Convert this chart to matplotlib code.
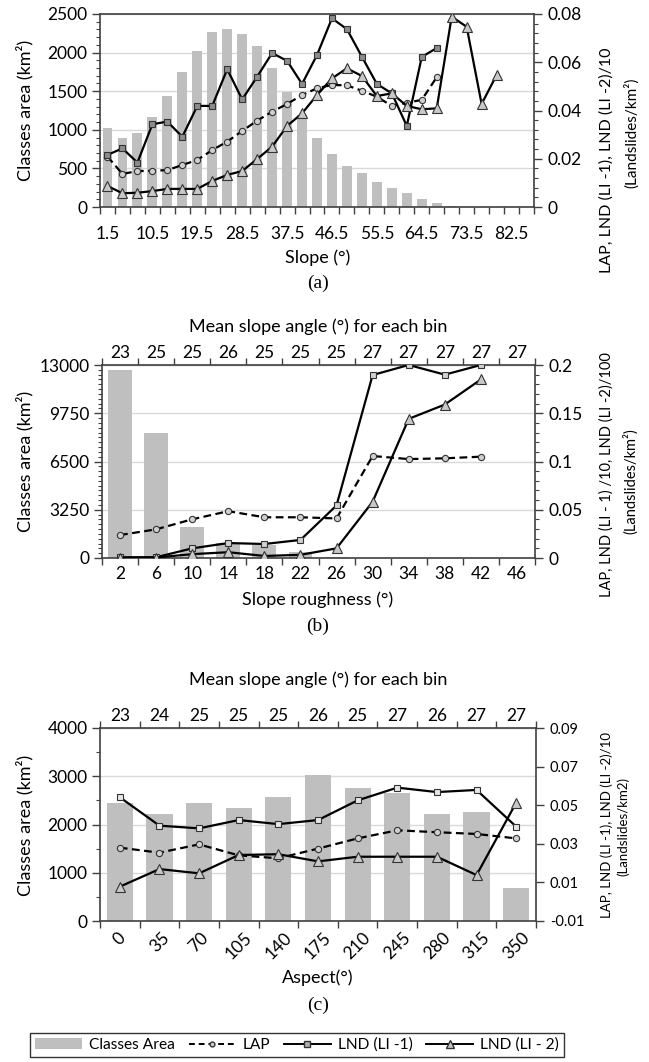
import matplotlib
matplotlib.use('Agg')
import numpy as np
import matplotlib.pyplot as plt
from matplotlib.lines import Line2D
from matplotlib.patches import Patch
from matplotlib.ticker import MultipleLocator, FixedLocator, FuncFormatter, NullFormatter

plt.rcParams['font.family'] = ['Lato', 'DejaVu Sans']
plt.rcParams['font.size'] = 12.5

# ---- slope classes (a) ----
slope_bins = ['1.5', '4.5', '7.5', '10.5', '13.5', '16.5', '19.5', '22.5', '25.5', '28.5',
              '31.5', '34.5', '37.5', '40.5', '43.5', '46.5', '49.5', '52.5', '55.5', '58.5',
              '61.5', '64.5', '67.5', '70.5', '73.5', '76.5', '79.5', '82.5', '85.5']
slope_area = [1020, 900, 960, 1170, 1440, 1750, 2020, 2265, 2300, 2240,
              2080, 1805, 1490, 1190, 900, 690, 530, 435, 330, 250,
              178, 105, 56, 15, 5, 0, 0, 0, 0]
slope_lap = [0.0209, 0.0137, 0.0149, 0.0150, 0.0153, 0.0174, 0.0195, 0.0236, 0.0271, 0.0315,
             0.0358, 0.0395, 0.0427, 0.0464, 0.0492, 0.0506, 0.0504, 0.0482, 0.0457, 0.0419,
             0.0432, 0.0444, 0.0538]
slope_lnd1 = [0.0216, 0.0243, 0.0184, 0.0343, 0.0354, 0.0291, 0.0419, 0.0419, 0.0571, 0.0446,
              0.0540, 0.0638, 0.0606, 0.0510, 0.0630, 0.0782, 0.0737, 0.0623, 0.0510, 0.0471,
              0.0336, 0.0622, 0.0659]
slope_lnd2 = [0.0087, 0.0057, 0.0059, 0.0066, 0.0075, 0.0075, 0.0075, 0.0108, 0.0133, 0.0149,
              0.0199, 0.0250, 0.0336, 0.0388, 0.0464, 0.0533, 0.0575, 0.0543, 0.0460, 0.0471,
              0.0419, 0.0405, 0.0409, 0.0789, 0.0747, 0.0427, 0.0547]

# ---- slope roughness (b) ----
rough_bins = ['2', '6', '10', '14', '18', '22', '26', '30', '34', '38', '42', '46']
rough_mean = ['23', '25', '25', '26', '25', '25', '25', '27', '27', '27', '27', '27']
rough_area = [12650, 8450, 2110, 1000, 870, 430, 70, 0, 0, 0, 0, 0]
rough_lap = [0.0238, 0.0297, 0.0401, 0.0485, 0.0422, 0.0422, 0.0410, 0.1057, 0.1025, 0.1033, 0.1050]
rough_lnd1 = [0.0007, 0.0008, 0.0100, 0.0155, 0.0145, 0.0187, 0.0545, 0.1896, 0.2000, 0.1900, 0.2000]
rough_lnd2 = [0.0003, 0.0005, 0.0040, 0.0060, 0.0021, 0.0033, 0.0100, 0.0583, 0.1442, 0.1590, 0.1850]

# ---- aspect (c) ----
aspect_bins = ['0', '35', '70', '105', '140', '175', '210', '245', '280', '315', '350']
aspect_mean = ['23', '24', '25', '25', '25', '26', '25', '27', '26', '27', '27']
aspect_area = [2450, 2220, 2440, 2335, 2560, 3025, 2765, 2660, 2210, 2265, 680]
aspect_lap = [0.0280, 0.0254, 0.0297, 0.0240, 0.0225, 0.0275, 0.0328, 0.0370, 0.0360, 0.0351, 0.0328]
aspect_lnd1 = [0.0541, 0.0394, 0.0380, 0.0423, 0.0402, 0.0423, 0.0525, 0.0591, 0.0568, 0.0579, 0.0389]
aspect_lnd2 = [0.0078, 0.0169, 0.0147, 0.0242, 0.0246, 0.0209, 0.0233, 0.0233, 0.0233, 0.0138, 0.0513]

BAR = '#bfbfbf'
GRID = '#d9d9d9'
SPINE = '#404040'
LBL = 13

W, H = 649, 1062
fig = plt.figure(figsize=(W / 100, H / 100), dpi=100)


def add_ax(x0, y0, x1, y1):
    return fig.add_axes([x0 / W, 1 - y1 / H, (x1 - x0) / W, (y1 - y0) / H])


def fmt(v, _):
    return '{:g}'.format(round(v, 6))


def panel(box, cats, area, lap, lnd1, lnd2, lyl, lstep, lminor, ryl, rticks, rminor,
          sq_face, every=1, top=None, rot=0, rsize=12.5, xpad=6):
    ax = add_ax(*box)
    n = len(cats)
    x = np.arange(n)
    ax.bar(x, area, width=0.66, color=BAR, zorder=2)
    ax.set_xlim(-0.5, n - 0.5)
    ax.set_ylim(*lyl)
    ax.yaxis.set_major_locator(MultipleLocator(lstep))
    if lminor:
        ax.yaxis.set_minor_locator(MultipleLocator(lminor))
    ax.yaxis.set_major_formatter(FuncFormatter(fmt))
    ax.grid(axis='y', color=GRID, lw=1.0, zorder=0)
    ax.set_axisbelow(True)
    for s in ax.spines.values():
        s.set_color(SPINE)
        s.set_linewidth(1.2)
    ax.tick_params(axis='y', which='major', direction='out', length=6, width=1, color=SPINE, pad=3)
    ax.tick_params(axis='y', which='minor', direction='out', length=3, width=0.8, color=SPINE)

    # ticks between categories, labels at category centres
    ax.xaxis.set_major_locator(FixedLocator(np.arange(n + 1) - 0.5))
    ax.xaxis.set_major_formatter(NullFormatter())
    ax.xaxis.set_minor_locator(FixedLocator(x))
    ax.set_xticklabels([c if i % every == 0 else '' for i, c in enumerate(cats)], minor=True)
    ax.tick_params(axis='x', which='major', direction='out', length=5, width=1, color=SPINE)
    ax.tick_params(axis='x', which='minor', length=0, pad=xpad)
    if rot:
        for t in ax.get_xticklabels(minor=True):
            t.set_rotation(rot)
            t.set_ha('center')

    if top is not None:
        sec = ax.secondary_xaxis('top')
        sec.xaxis.set_major_locator(FixedLocator(np.arange(n + 1) - 0.5))
        sec.xaxis.set_major_formatter(NullFormatter())
        sec.xaxis.set_minor_locator(FixedLocator(x))
        sec.set_xticklabels(top, minor=True)
        sec.tick_params(axis='x', which='major', direction='out', length=5, width=1, color=SPINE)
        sec.tick_params(axis='x', which='minor', length=0, pad=3)
        sec.spines['top'].set_color(SPINE)

    ax2 = ax.twinx()
    ax2.plot(np.arange(len(lap)), lap, ls='--', color='black', lw=1.6, dashes=(3.5, 2),
             marker='o', ms=4.5, mfc='#cfcfcf', mec='#333333', mew=0.8, zorder=3)
    ax2.plot(np.arange(len(lnd1)), lnd1, ls='-', color='black', lw=1.6,
             marker='s', ms=5, mfc=sq_face, mec='#333333', mew=0.8, zorder=4)
    ax2.plot(np.arange(len(lnd2)), lnd2, ls='-', color='black', lw=1.6,
             marker='^', ms=7, mfc='#c8c8c8', mec='#333333', mew=0.8, zorder=4)
    ax2.set_ylim(*ryl)
    ax2.yaxis.set_major_locator(FixedLocator(rticks))
    if rminor:
        ax2.yaxis.set_minor_locator(MultipleLocator(rminor))
    ax2.yaxis.set_major_formatter(FuncFormatter(fmt))
    for s in ax2.spines.values():
        s.set_visible(False)
    ax.spines['right'].set_zorder(5)
    ax2.tick_params(axis='y', which='major', direction='out', length=6, width=1, color=SPINE,
                    labelsize=rsize, pad=4)
    ax2.tick_params(axis='y', which='minor', direction='out', length=3, width=0.8, color=SPINE)
    return ax, ax2


# (a) slope
panel((100, 14, 534, 207), slope_bins, slope_area, slope_lap, slope_lnd1, slope_lnd2,
      (0, 2500), 500, 100, (0, 0.08), [0, 0.02, 0.04, 0.06, 0.08], 0.004,
      sq_face='#8c8c8c', every=3, xpad=14)
fig.text(25 / W, 1 - 110 / H, 'Classes area (km²)', rotation=90, ha='center', va='center', fontsize=LBL)
fig.text(607 / W, 1 - 160 / H, 'LAP, LND (LI -1), LND (LI -2)/10', rotation=90, ha='center', va='center', fontsize=11.5)
fig.text(631 / W, 1 - 133 / H, '(Landslides/km²)', rotation=90, ha='center', va='center', fontsize=11)
fig.text(318 / W, 1 - 258 / H, 'Slope (°)', ha='center', va='center', fontsize=LBL)
fig.text(318 / W, 1 - 283 / H, '(a)', ha='center', va='center', fontsize=14, family='Liberation Serif')

# (b) slope roughness
panel((102, 365, 535, 558), rough_bins, rough_area, rough_lap, rough_lnd1, rough_lnd2,
      (0, 13000), 3250, 325, (0, 0.2), [0, 0.05, 0.1, 0.15, 0.2], 0.01,
      sq_face='#d0d0d0', top=rough_mean)
fig.text(318 / W, 1 - 327 / H, 'Mean slope angle (°) for each bin', ha='center', va='center', fontsize=LBL)
fig.text(25 / W, 1 - 461 / H, 'Classes area (km²)', rotation=90, ha='center', va='center', fontsize=LBL)
fig.text(607 / W, 1 - 475 / H, 'LAP, LND (LI - 1) /10, LND (LI -2)/100', rotation=90, ha='center', va='center', fontsize=10.5)
fig.text(630 / W, 1 - 481 / H, '(Landslides/km²)', rotation=90, ha='center', va='center', fontsize=10.5)
fig.text(318 / W, 1 - 600 / H, 'Slope roughness (°)', ha='center', va='center', fontsize=LBL)
fig.text(318 / W, 1 - 626 / H, '(b)', ha='center', va='center', fontsize=14, family='Liberation Serif')

# (c) aspect
panel((100, 728, 536, 921), aspect_bins, aspect_area, aspect_lap, aspect_lnd1, aspect_lnd2,
      (0, 4000), 1000, 500, (-0.01, 0.09), [-0.01, 0.01, 0.03, 0.05, 0.07, 0.09], None,
      sq_face='#e6e6e6', top=aspect_mean, rot=45, rsize=10.5)
fig.text(318 / W, 1 - 680 / H, 'Mean slope angle (°) for each bin', ha='center', va='center', fontsize=LBL)
fig.text(25 / W, 1 - 825 / H, 'Classes area (km²)', rotation=90, ha='center', va='center', fontsize=LBL)
fig.text(607 / W, 1 - 825 / H, 'LAP, LND (LI -1), LND (LI -2)/10', rotation=90, ha='center', va='center', fontsize=9.5)
fig.text(623 / W, 1 - 826 / H, '(Landslides/km2)', rotation=90, ha='center', va='center', fontsize=9.5)
fig.text(318 / W, 1 - 978 / H, 'Aspect(°)', ha='center', va='center', fontsize=LBL)
fig.text(318 / W, 1 - 1005 / H, '(c)', ha='center', va='center', fontsize=14, family='Liberation Serif')

handles = [
    Patch(facecolor=BAR, edgecolor='none'),
    Line2D([], [], ls='--', color='black', lw=1.4, dashes=(3, 2), marker='o', ms=3.5,
           mfc='#cfcfcf', mec='#333333'),
    Line2D([], [], ls='-', color='black', lw=1.4, marker='s', ms=4.5, mfc='#b0b0b0', mec='#333333'),
    Line2D([], [], ls='-', color='black', lw=1.4, marker='^', ms=6, mfc='#c8c8c8', mec='#333333'),
]
leg = fig.legend(handles, ['Classes Area', 'LAP', 'LND (LI -1)', 'LND (LI - 2)'],
                 loc='center', bbox_to_anchor=(297 / W, 1 - 1045 / H), ncol=4,
                 frameon=True, fancybox=False, edgecolor='black', fontsize=11.2,
                 handlelength=3.0, handletextpad=0.45, columnspacing=0.9, borderpad=0.3)
leg.get_frame().set_linewidth(1.0)

fig.savefig('out.png', dpi=100)
